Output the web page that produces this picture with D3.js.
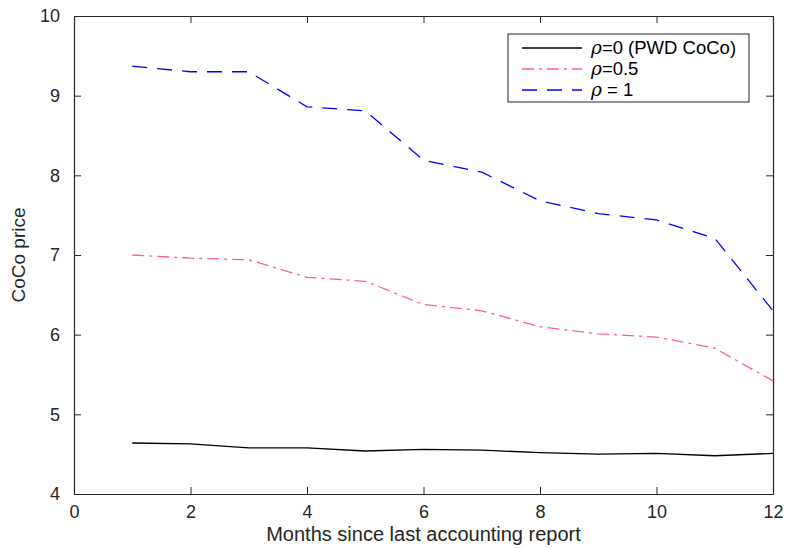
<!DOCTYPE html>
<html><head><meta charset="utf-8">
<script src="https://cdn.jsdelivr.net/npm/d3@7"></script>
<style>body{margin:0;background:#fff}svg{display:block}text{font-family:"Liberation Sans",Arial,sans-serif}</style>
</head><body><div id="chart"></div>
<script>
const months = [1,2,3,4,5,6,7,8,9,10,11,12];
const rho0 = [4.64,4.63,4.58,4.58,4.54,4.56,4.55,4.52,4.50,4.51,4.48,4.51];
const rho05 = [7.00,6.96,6.94,6.72,6.67,6.38,6.30,6.10,6.01,5.97,5.83,5.42];
const rho1 = [9.37,9.30,9.30,8.86,8.81,8.19,8.04,7.68,7.52,7.44,7.21,6.30];
const xTicks = [0,2,4,6,8,10,12];
const yTicks = [4,5,6,7,8,9,10];
const seriesNames = ["ρ=0 (PWD CoCo)","ρ=0.5","ρ = 1"];

const W=785,H=548;
const m={l:74,r:12,t:16,b:54};
const svg=d3.select("#chart").append("svg").attr("width",W).attr("height",H);
const x=d3.scaleLinear().domain([0,12]).range([m.l,W-m.r]);
const y=d3.scaleLinear().domain([4,10]).range([H-m.b,m.t]);
const axc="#262626";
const fmt=d3.format("d");

const gx=svg.append("g").attr("transform",`translate(0,${y(4)})`)
  .call(d3.axisBottom(x).tickValues(xTicks).tickFormat(fmt).tickSizeInner(-7).tickSizeOuter(0).tickPadding(11));
const gxt=svg.append("g").attr("transform",`translate(0,${y(10)})`)
  .call(d3.axisTop(x).tickValues(xTicks).tickSizeInner(-7).tickSizeOuter(0).tickFormat(""));
const gy=svg.append("g").attr("transform",`translate(${x(0)},0)`)
  .call(d3.axisLeft(y).tickValues(yTicks).tickFormat(fmt).tickSizeInner(-7).tickSizeOuter(0).tickPadding(14));
const gyr=svg.append("g").attr("transform",`translate(${x(12)},0)`)
  .call(d3.axisRight(y).tickValues(yTicks).tickSizeInner(-7).tickSizeOuter(0).tickFormat(""));
[gx,gxt,gy,gyr].forEach(g=>{
  g.selectAll("path").attr("stroke",axc).attr("stroke-width",1.2);
  g.selectAll("line").attr("stroke",axc).attr("stroke-width",1);
  g.selectAll("text").attr("fill",axc).style("font-size","18px").style("font-family","Liberation Sans, Arial, sans-serif");
});

const line=d3.line().x((d,i)=>x(months[i])).y(d=>y(d));
const styles=[
  {data:rho0,color:"#000000",dash:null},
  {data:rho05,color:"#ff5c97",dash:"12,5,3,5"},
  {data:rho1,color:"#0000ff",dash:"15,10"}
];
styles.forEach(s=>{
  svg.append("path").datum(s.data).attr("d",line).attr("fill","none")
    .attr("stroke",s.color).attr("stroke-width",1.3)
    .attr("stroke-dasharray",s.dash);
});

svg.append("text").attr("x",(x(0)+x(12))/2).attr("y",541).attr("text-anchor","middle")
  .style("font-size","20px").attr("fill",axc).text("Months since last accounting report");
svg.append("text").attr("transform",`translate(25,${(y(4)+y(10))/2}) rotate(-90)`).attr("text-anchor","middle")
  .style("font-size","19px").attr("fill",axc).text("CoCo price");

const lg=svg.append("g");
lg.append("rect").attr("x",508).attr("y",34).attr("width",241).attr("height",68)
  .attr("fill","#fff").attr("stroke",axc).attr("stroke-width",1);
styles.forEach((s,i)=>{
  const yy=48+i*21;
  lg.append("line").attr("x1",522).attr("x2",582).attr("y1",yy).attr("y2",yy)
    .attr("stroke",s.color).attr("stroke-width",1.3).attr("stroke-dasharray",s.dash);
  const t=lg.append("text").attr("x",591).attr("y",yy+6).style("font-size","18.5px").attr("fill","#000");
  const nm=seriesNames[i];
  t.append("tspan").style("font-family","DejaVu Serif, serif").style("font-style","italic").text(nm[0]);
  t.append("tspan").text(nm.slice(1));
});
</script></body></html>
